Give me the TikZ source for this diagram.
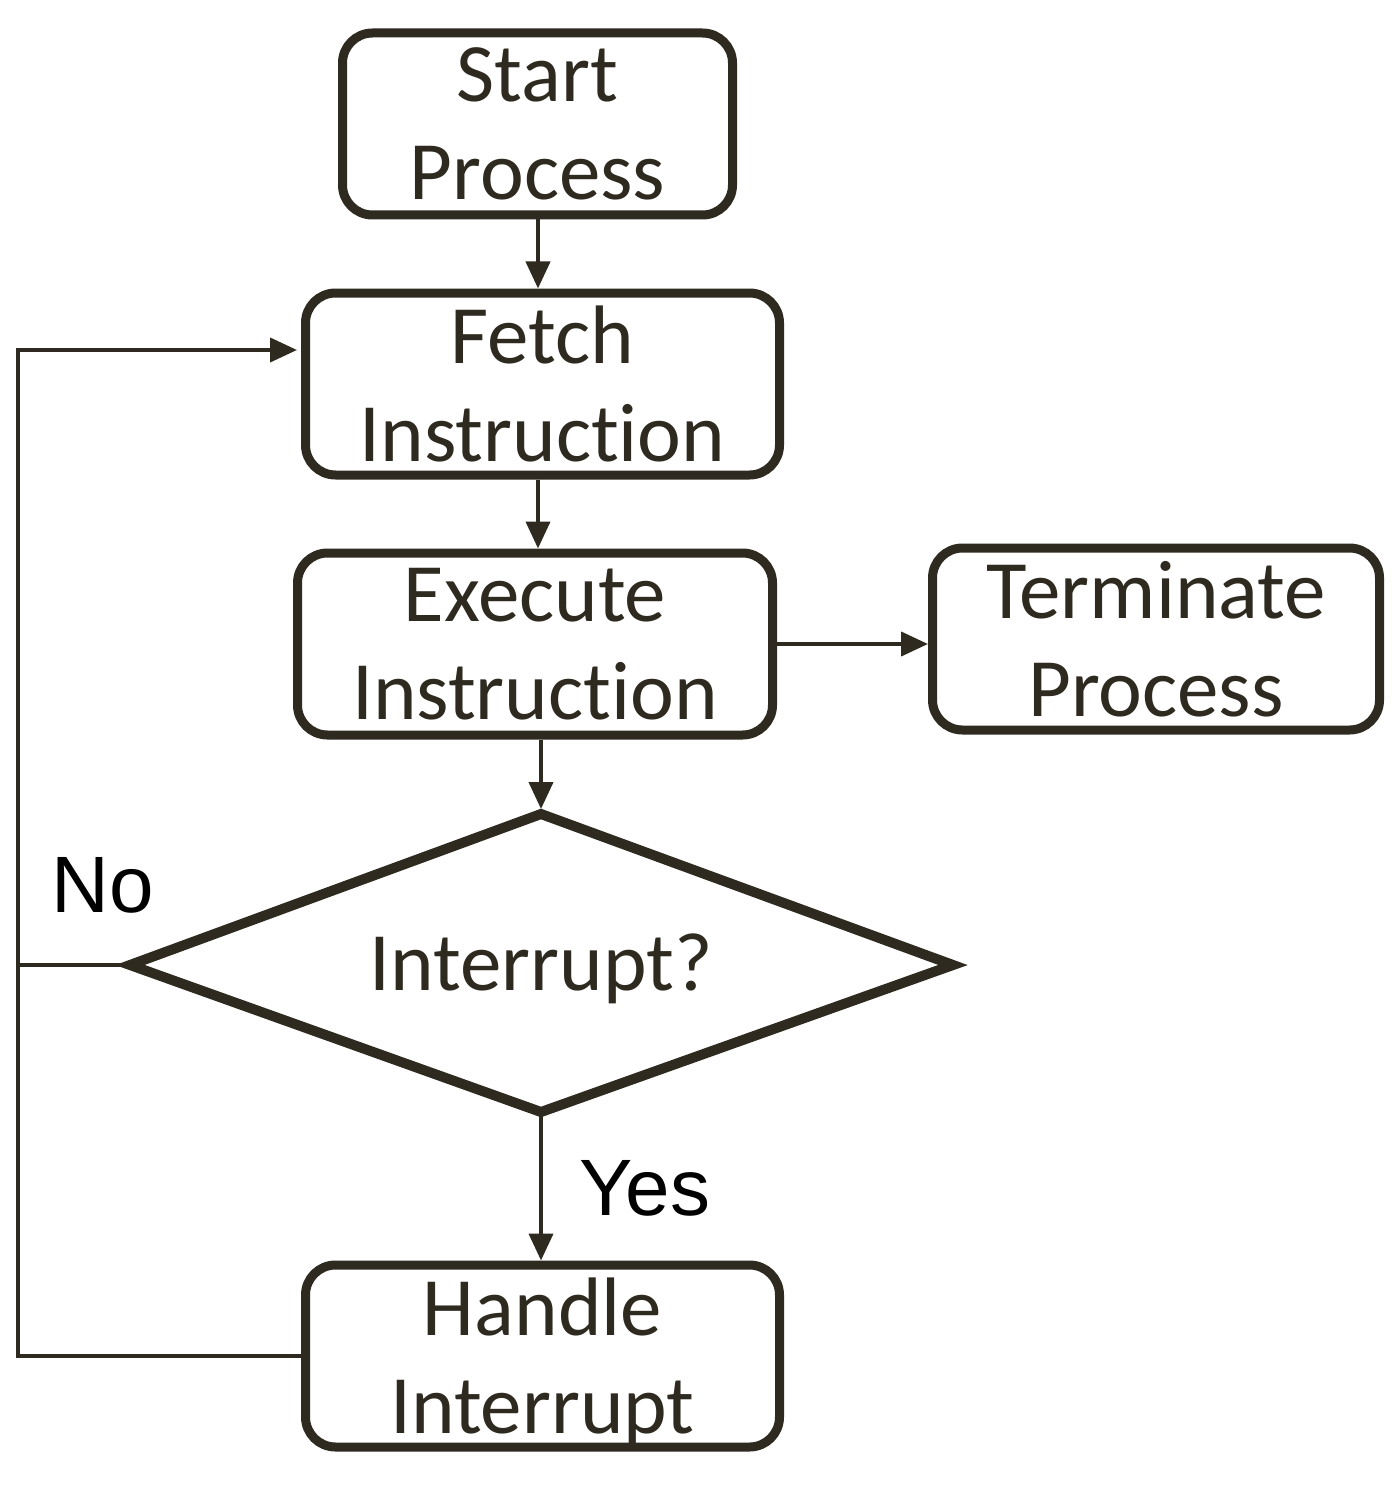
\documentclass[tikz,border=0pt]{standalone}
\usepackage{fontspec}
\setmainfont{Carlito}[Ligatures=NoCommon]
\newfontfamily\arialfont{Liberation Sans}
\usetikzlibrary{arrows.meta}
\definecolor{ink}{RGB}{46,42,32}
\begin{document}
\begin{tikzpicture}[x=1pt,y=-1pt,
  box/.style={draw=ink, line width=9pt, rounded corners=30pt, minimum height=182pt,
    align=center, text=ink, font=\fontsize{83}{98}\selectfont, inner sep=0pt},
  txt/.style={text=ink, font=\fontsize{83}{98}\selectfont, inner sep=0pt},
  link/.style={draw=ink, line width=4pt},
  conn/.style={link, -{Triangle[length=27pt,width=24pt]}},
  lbl/.style={text=black, font=\arialfont\fontsize{80}{90}\selectfont, inner sep=0pt}]
\useasboundingbox (0,0) rectangle (1398,1506);
\fill[white] (0,0) rectangle (1398,1506);

\node[box, minimum width=390pt] (start) at (537.5,124) {Start\\Process};
\node[box, minimum width=474pt] (fetch) at (542.5,384) {Fetch\\Instruction};
\node[box, minimum width=475pt] (exec) at (535,644) {Execute\\Instruction};
\node[box, minimum width=447pt] (term) at (1156,639) {Terminate\\Process};
\node[box, minimum width=474pt] (handle) at (542.5,1356) {Handle\\\smash{Interrupt}};

\coordinate (dtop) at (541,814);
\coordinate (dright) at (953,965);
\coordinate (dbot) at (541,1112);
\coordinate (dleft) at (130,965);
\draw[draw=ink, line width=10pt, miter limit=10] (dtop) -- (dright) -- (dbot) -- (dleft) -- cycle;
\node[txt, anchor=base] (dia) at (541,990) {Interrupt?};

\coordinate (loopbot) at (18,1356);
\coordinate (looptop) at (18,350);
\coordinate (fetchin) at (297,350);
\coordinate (colA) at (538,0);

\draw[conn] (start.south -| colA) -- (fetch.north -| colA);
\draw[conn] (fetch.south -| colA) -- (exec.north -| colA);
\draw[conn, shorten >=5pt] (exec.south -| dtop) -- (dtop);
\draw[conn] (exec.east) -- (exec.east -| term.west);
\draw[conn] (dbot) -- (dbot |- handle.north);
\draw[conn] (handle.west) -- (loopbot) -- (looptop) -- (fetchin);
\draw[link] (dleft) -- (dleft -| looptop);

\node[lbl] (no) at (103,885) {No};
\node[lbl] (yes) at (645,1188) {Yes};
\end{tikzpicture}
\end{document}
